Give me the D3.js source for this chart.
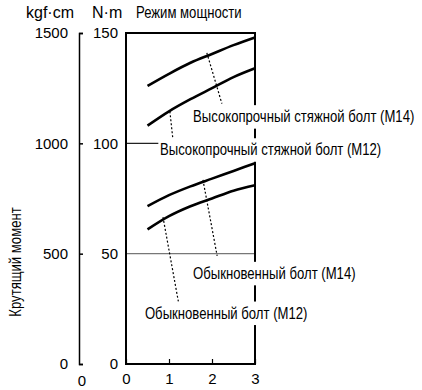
<!DOCTYPE html>
<html>
<head>
<meta charset="utf-8">
<script src="https://cdn.jsdelivr.net/npm/d3@7"></script>
<style>
  body { margin: 0; background: #fff; }
  text { font-family: "Liberation Sans", Arial, sans-serif; }
</style>
</head>
<body>
<div id="chart"></div>
<script>
// data
var xValues = [0.5, 1, 1.5, 2, 2.5, 3];
var highM14 = [126, 131.5, 136.5, 140.5, 144.5, 148];
var highM12 = [108, 114.5, 120, 125, 130, 134];
var ordM14 = [71.5, 76.5, 80.5, 84, 87.5, 91];
var ordM12 = [61, 67, 71.5, 75, 78.5, 81];

var xTicks = [0, 1, 2, 3];
var nmTicks = [0, 50, 100, 150];
var kgfTicks = [0, 500, 1000, 1500];

var labels = ['Высокопрочный стяжной болт (M14)', 'Высокопрочный стяжной болт (M12)',
              'Обыкновенный болт (M14)', 'Обыкновенный болт (M12)'];
// leader lines, data units: [x on curve, y on curve, x at label, y at label]
var leaders = [[1.88, 141, 2.23, 118], [1.02, 114.5, 1.09, 102], [1.79, 83.4, 2.12, 49], [0.86, 66.6, 1.23, 27]];
// label anchor (left, baseline) in data units
var labelPos = [[1.56, 109.5], [0.79, 94.5], [1.56, 38.5], [0.44, 20.5]];

var width = 422, height = 390;
var margin = { top: 33, left: 126, right: 167, bottom: 26 };
var squeeze = 0.82;

var svg = d3.select('#chart').append('svg')
  .attr('width', width)
  .attr('height', height);

var x = d3.scaleLinear().domain([0, 3]).range([margin.left, width - margin.right]);
var y = d3.scaleLinear().domain([0, 150]).range([height - margin.bottom, margin.top]);
var yk = d3.scaleLinear().domain([0, 1500]).range([height - margin.bottom, margin.top]);

function narrowText(px, py, str, size) {
  var g = svg.append('g').attr('transform', 'translate(' + px + ',' + py + ') scale(' + squeeze + ',1)');
  g.append('text').attr('x', 0).attr('y', 0).style('font-size', size + 'px').text(str);
  return g;
}

// grid lines at 50 and 100
svg.append('line')
  .attr('x1', x(0)).attr('x2', x(3))
  .attr('y1', y(50)).attr('y2', y(50))
  .style('stroke', '#777').style('stroke-width', 1.2);
svg.append('line')
  .attr('x1', x(0)).attr('x2', x(3))
  .attr('y1', y(100)).attr('y2', y(100))
  .style('stroke', '#222').style('stroke-width', 1.2);

// plot frame
svg.append('rect')
  .attr('x', x(0)).attr('y', y(150))
  .attr('width', x(3) - x(0)).attr('height', y(0) - y(150))
  .style('fill', 'none').style('stroke', '#000').style('stroke-width', 2);

// x ticks pointing up
var xAxis = d3.axisBottom(x).tickValues(xTicks).tickSize(-5).tickPadding(9).tickFormat(d3.format('d'));
var gx = svg.append('g').attr('transform', 'translate(0,' + y(0) + ')').call(xAxis);
gx.select('.domain').remove();
gx.selectAll('line').style('stroke', '#000').style('stroke-width', 1.2);
gx.selectAll('text').style('font-size', '15px').style('fill', '#000');

// N·m labels
var gy = svg.append('g').attr('transform', 'translate(' + x(0) + ',0)')
  .call(d3.axisLeft(y).tickValues(nmTicks).tickSize(0).tickPadding(8).tickFormat(d3.format('d')));
gy.select('.domain').remove();
gy.selectAll('text').style('font-size', '15px').style('fill', '#000');

// kgf·cm axis
var axisK = 79;
var gk = svg.append('g').attr('transform', 'translate(' + axisK + ',0)')
  .call(d3.axisLeft(yk).tickValues(kgfTicks).tickSize(-4).tickSizeOuter(-4).tickPadding(11).tickFormat(d3.format('d')));
gk.select('.domain').style('stroke', '#000').style('stroke-width', 1.5);
gk.selectAll('line').style('stroke', '#000').style('stroke-width', 1.5);
gk.selectAll('text').style('font-size', '15px').style('fill', '#000');

svg.append('text')
  .attr('x', axisK + 3).attr('y', 386)
  .attr('text-anchor', 'middle')
  .style('font-size', '15px')
  .text('0');

// header texts
svg.append('text').attr('x', 26).attr('y', 18).style('font-size', '16px').text('kgf·cm');
svg.append('text').attr('x', 92).attr('y', 18).style('font-size', '16px').text('N·m');
narrowText(136, 18, 'Режим мощности', 16);

svg.append('g')
  .attr('transform', 'translate(21,262) rotate(-90) scale(' + squeeze + ',1)')
  .append('text')
  .attr('text-anchor', 'middle')
  .style('font-size', '16px')
  .text('Крутящий момент');

// curves
var line = d3.line()
  .x(function(d, i) { return x(xValues[i]); })
  .y(function(d) { return y(d); })
  .curve(d3.curveMonotoneX);

[highM14, highM12, ordM14, ordM12].forEach(function(series) {
  svg.append('path')
    .datum(series)
    .attr('d', line)
    .style('fill', 'none')
    .style('stroke', '#000')
    .style('stroke-width', 2.6);
});

// leaders
svg.selectAll('.leader').data(leaders).enter().append('line')
  .attr('class', 'leader')
  .attr('x1', function(d) { return x(d[0]); })
  .attr('y1', function(d) { return y(d[1]); })
  .attr('x2', function(d) { return x(d[2]); })
  .attr('y2', function(d) { return y(d[3]); })
  .style('stroke', '#000')
  .style('stroke-width', 1.2)
  .style('stroke-dasharray', '2,2');

// labels with white boxes
labels.forEach(function(t, i) {
  var g = narrowText(x(labelPos[i][0]), y(labelPos[i][1]), t, 16);
  var b = g.select('text').node().getBBox();
  g.insert('rect', 'text')
    .attr('x', b.x - 2).attr('y', b.y - 3)
    .attr('width', b.width + 4).attr('height', b.height + 6)
    .style('fill', '#fff');
});
</script>
</body>
</html>
